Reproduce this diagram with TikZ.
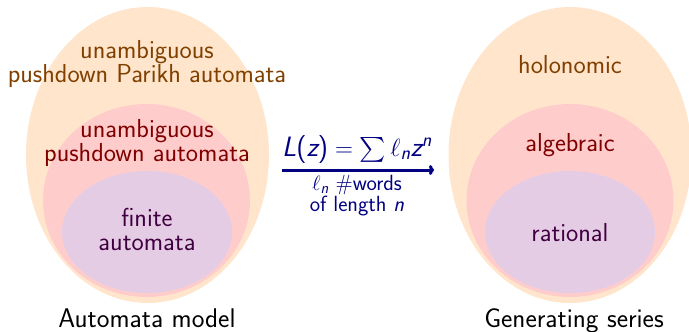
\documentclass[tikz,border=0pt]{standalone}
\usepackage{amsmath}
\usetikzlibrary{shapes.geometric,arrows.meta}
\newcommand\mv[1]{\textsl{#1}}
\begin{document}
\begin{tikzpicture}[x=1pt,y=-1pt,
  font=\sffamily,
  blob/.style={ellipse, inner sep=0pt, draw=none},
  outerset/.style={blob, fill=orange!20, minimum width=243pt, minimum height=296pt},
  midset/.style={blob, fill=red!20, minimum width=207pt, minimum height=193pt},
  innerset/.style={blob, fill=violet!20, minimum width=170pt, minimum height=122pt},
  lbl/.style={inner sep=0pt, align=center, anchor=base, font=\sffamily\fontsize{26}{24}\selectfont},
  outertxt/.style={lbl, text=orange!50!black},
  midtxt/.style={lbl, text=red!50!black},
  innertxt/.style={lbl, text=violet!50!black},
  captxt/.style={lbl, text=black, font=\sffamily\fontsize{27}{24}\selectfont},
  arr/.style={draw=blue!50!black, line width=3pt, -{To[length=5pt,width=10pt]}},
  formula/.style={inner sep=0pt, anchor=base, text=blue!50!black, font=\sffamily\fontsize{28}{28}\selectfont},
  sublbl/.style={inner sep=0pt, align=center, anchor=base, text=blue!50!black, font=\sffamily\fontsize{22}{19}\selectfont}
]
\useasboundingbox (0,0) rectangle (689,332);

% left: automata models
\node[outerset] (lo) at (147.5,155) {};
\node[midset]   (lm) at (146.5,200.5) {};
\node[innerset] (li) at (147,232) {};
\node[outertxt] (lot) at (147,82) {unambiguous\\pushdown Parikh automata};
\node[midtxt]   (lmt) at (147,161) {unambiguous\\pushdown automata};
\node[innertxt] (lit) at (147,250) {finite\\automata};
\node[captxt]   (lcap) at (147,327) {Automata model};

% right: generating series
\node[outerset] (ro) at (570,155) {};
\node[midset]   (rm) at (570,200.5) {};
\node[innerset] (ri) at (570,232) {};
\node[outertxt] (rot) at (570,73) {holonomic};
\node[midtxt]   (rmt) at (570,151) {algebraic};
\node[innertxt] (rit) at (570,241) {rational};
\node[captxt]   (rcap) at (574,327) {Generating series};

% arrow
\coordinate (as) at (282,170);
\coordinate (ae) at (434,170);
\draw[arr] (as) -- (ae);
\node[formula] (f) at (357,156) {$\mv{L}\textup{(}\mv{z}\textup{)}=\sum \ell_{\mv{n}} \mv{z}^{\mv{n}}$};
\node[sublbl] (fs) at (357,211) {$\ell_{\mv{n}}$ \#words\\of length \mv{n}};
\end{tikzpicture}
\end{document}
